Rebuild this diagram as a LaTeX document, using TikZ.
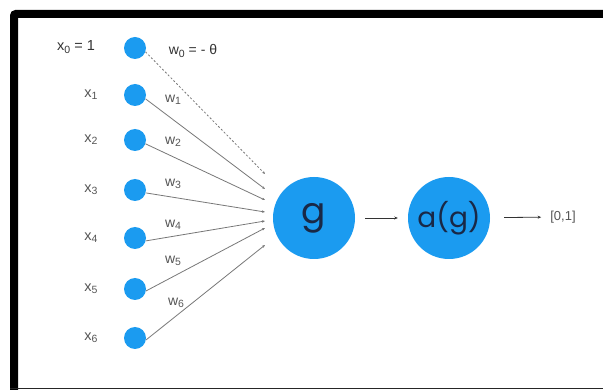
\documentclass[tikz,border=0pt]{standalone}
\usepackage{fontspec}
\setmainfont{Liberation Sans}
\newfontfamily\bigfont{Poppins}
\usetikzlibrary{arrows.meta}
\definecolor{nodeblue}{RGB}{27,155,240}
\definecolor{navy}{RGB}{25,40,70}
\definecolor{labgray}{RGB}{85,85,85}
\definecolor{linegray}{RGB}{120,120,120}
\newcommand{\lsub}[1]{\raisebox{-0.3ex}{\fontsize{10.5}{10.5}\selectfont #1}}
\begin{document}
\begin{tikzpicture}[x=1pt,y=-1pt,
  innode/.style={circle,fill=nodeblue,minimum size=22pt,inner sep=0pt},
  bignode/.style={circle,fill=nodeblue,minimum size=82pt,inner sep=0pt,font=\bigfont\fontsize{28}{28}\selectfont,text=navy},
  xlab/.style={font=\fontsize{14.5}{14.5}\selectfont,text=labgray},
  wlab/.style={font=\fontsize{14}{14}\selectfont,text=labgray},
  wire/.style={draw=linegray,line width=0.8pt,-{Stealth[length=3pt,width=2.5pt]}},
  bias/.style={wire,dash pattern=on 2pt off 2pt},
  flow/.style={draw=black!80,line width=0.8pt,-{Stealth[length=3.5pt,width=3pt]}}]
\useasboundingbox (0,0) rectangle (603,390);
\fill[white] (0,0) rectangle (603,390);
% frame
\draw[line width=8pt,rounded corners=2pt] (603,14) -- (14,14) -- (14,394);
\draw[line width=1.5pt,black!85] (10,388.5) -- (603,388.5);
% input nodes
\node[innode] (x0) at (135,48) {};
\node[innode] (x1) at (135,95) {};
\node[innode] (x2) at (135,140) {};
\node[innode] (x3) at (135,190) {};
\node[innode] (x4) at (135,238) {};
\node[innode] (x5) at (135,289) {};
\node[innode] (x6) at (135,338) {};
% input labels
\node[xlab,text=black!80] (l0) at (76,47) {x\lsub{0} = 1};
\node[xlab] (l1) at (91,95) {x\lsub{1}};
\node[xlab] (l2) at (91,140) {x\lsub{2}};
\node[xlab] (l3) at (91,190) {x\lsub{3}};
\node[xlab] (l4) at (91,238) {x\lsub{4}};
\node[xlab] (l5) at (91,289) {x\lsub{5}};
\node[xlab] (l6) at (91,338) {x\lsub{6}};
% weight labels
\node[wlab,text=black!80] (w0) at (193,51) {w\lsub{0} = - θ};
\node[wlab] (w1) at (173,100) {w\lsub{1}};
\node[wlab] (w2) at (173,142) {w\lsub{2}};
\node[wlab] (w3) at (173,184) {w\lsub{3}};
\node[wlab] (w4) at (173,225) {w\lsub{4}};
\node[wlab] (w5) at (173,261) {w\lsub{5}};
\node[wlab] (w6) at (176,303) {w\lsub{6}};
% end points
\coordinate (e0) at (265,174);
\coordinate (e1) at (265,189);
\coordinate (e2) at (265,200);
\coordinate (e3) at (265,212);
\coordinate (e4) at (265,221);
\coordinate (e5) at (265,228);
\coordinate (e6) at (265,245);
% big nodes
\node[bignode,font=\bigfont\fontsize{36}{36}\selectfont] (g) at (314,218) {g};
\node[bignode] (a) at (449,218) {a(g)};
\node[font=\fontsize{13}{13}\selectfont,text=labgray,inner sep=0pt] (out) at (563,217) {[0,1]};
% wires
\draw[bias] (x0.-20) -- (e0);
\draw[wire] (x1.-20) -- (e1);
\draw[wire] (x2.-20) -- (e2);
\draw[wire] (x3.-15) -- (e3);
\draw[wire] (x4.-15) -- (e4);
\draw[wire] (x5.-10) -- (e5);
\draw[wire] (x6.-10) -- (e6);
\draw[flow,shorten <=10pt,shorten >=10pt] (g) -- (a);
\draw[flow,shorten <=14pt,shorten >=9pt] (a) -- (out);
\end{tikzpicture}
\end{document}
